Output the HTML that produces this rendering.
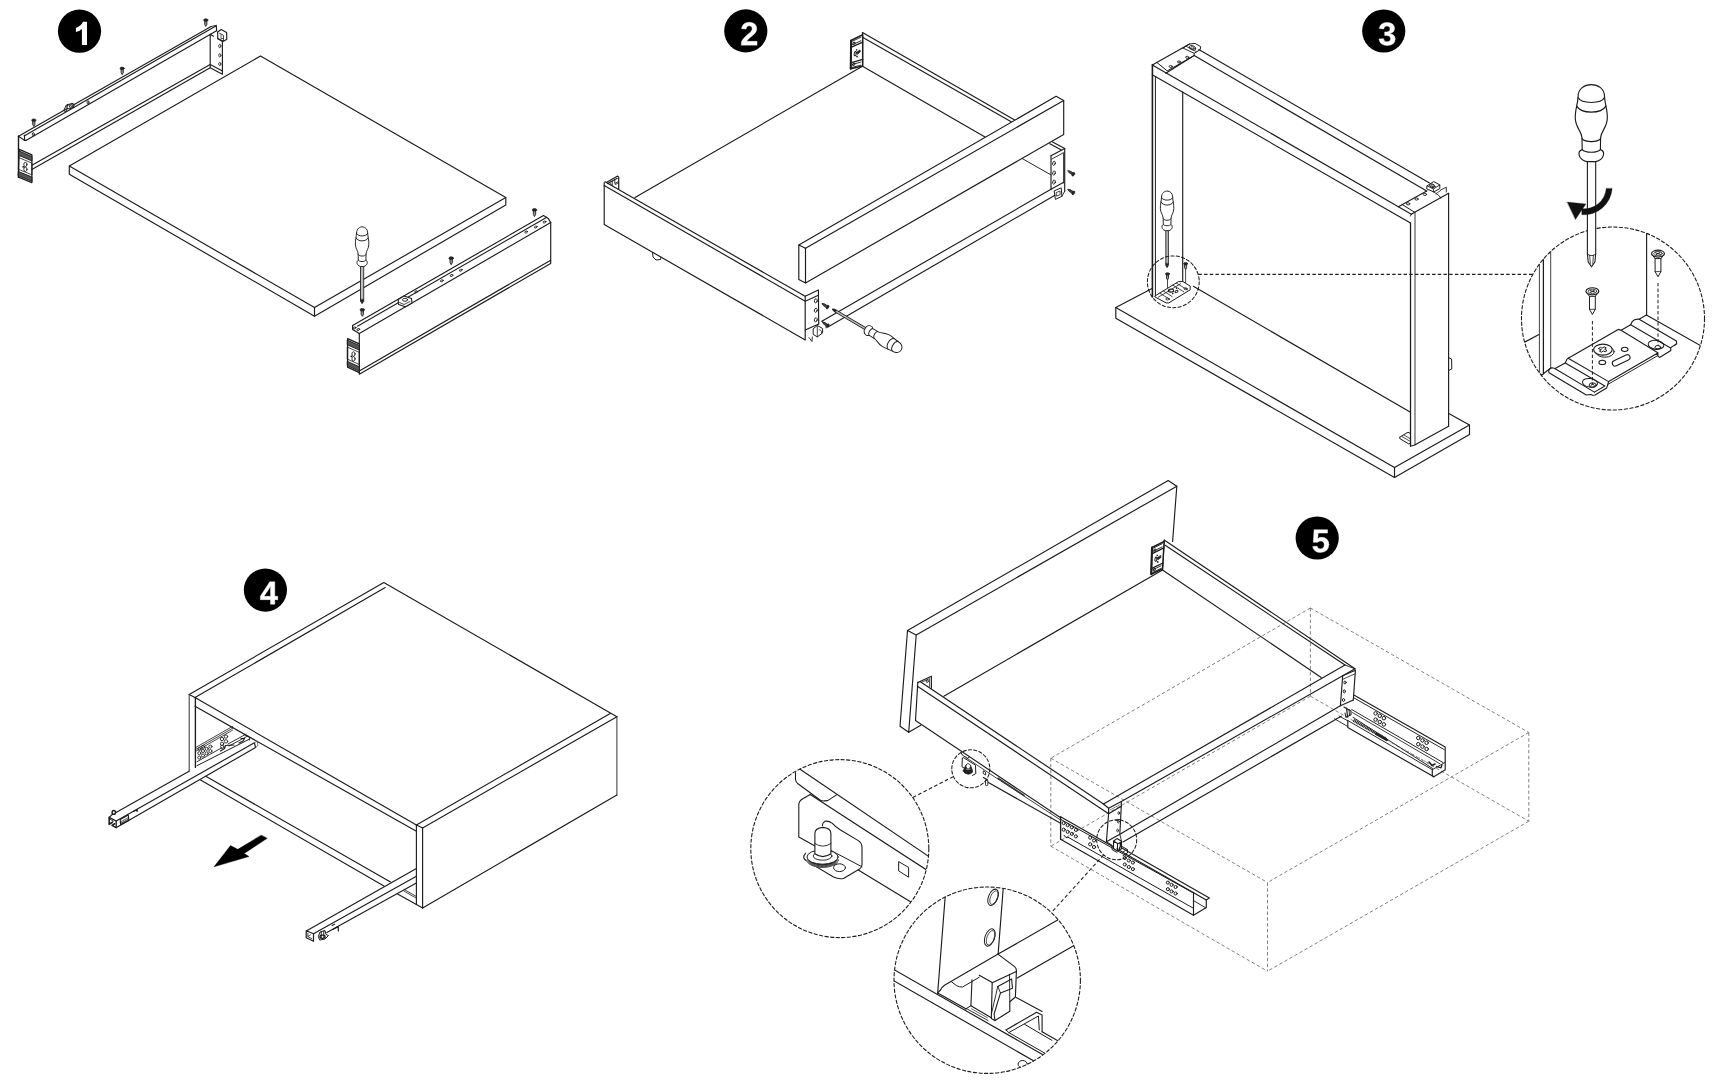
<!DOCTYPE html>
<html><head><meta charset="utf-8"><title>Assembly</title>
<style>html,body{margin:0;padding:0;background:#fff}body{width:1720px;height:1082px;overflow:hidden;font-family:"Liberation Sans",sans-serif}svg{display:block}</style>
</head><body>
<svg width="1720" height="1082" viewBox="0 0 1720 1082" stroke-linejoin="round" stroke-linecap="round">
<rect width="1720" height="1082" fill="#fff"/>
<circle cx="79.5" cy="31.2" r="21.6" fill="#000"/>
<path transform="translate(79.5,31.2)" fill="#fff" d="M7.5,-9.4 L7.5,13.7 L2.4,13.7 L2.4,-2.3 Q-0.2,-0.1 -3.6,0.8 L-3.6,-3.3 Q1.4,-5 3.5,-9.4 Z"/>
<path d="M260.5,56.0 L505.8,197.5 L505.8,205.0 L314.5,316.2 L69.3,174.3 L69.3,166.0 Z" fill="#fff" stroke="#1c1c1c" stroke-width="1.15" />
<path d="M69.3,166.0 L314.5,307.5 L505.8,197.5" fill="none" stroke="#1c1c1c" stroke-width="1.15" />
<path d="M314.5,307.5 L314.5,316.2" fill="none" stroke="#1c1c1c" stroke-width="1.15" />
<path d="M18.5,136.2 L211.1,26.5" fill="none" stroke="#1c1c1c" stroke-width="1.15" />
<path d="M24.5,135.8 L216.3,25.7 L216.6,30.8" fill="none" stroke="#1c1c1c" stroke-width="1.15" />
<path d="M25.9,140.4 L216.6,30.8" fill="none" stroke="#1c1c1c" stroke-width="1.15" />
<path d="M18.5,136.2 L24.5,140.4 L25.9,140.4" fill="none" stroke="#1c1c1c" stroke-width="1.15" />
<path d="M24.5,135.3 L24.5,140.4" fill="none" stroke="#1c1c1c" stroke-width="1.15" />
<path d="M211.1,26.5 L216.3,25.3" fill="none" stroke="#1c1c1c" stroke-width="0.9" />
<path d="M18.5,136.2 L18.5,177.4" fill="none" stroke="#1c1c1c" stroke-width="1.4" />
<path d="M31.9,165.3 L210.2,64.5" fill="none" stroke="#1c1c1c" stroke-width="1.15" />
<path d="M31.9,169.5 L210.2,67.8" fill="none" stroke="#1c1c1c" stroke-width="1.15" />
<path d="M210.2,34.3 L210.2,67.8 L222.4,74.2 L222.4,41.4 L217.5,38.6" fill="none" stroke="#1c1c1c" stroke-width="1.15" />
<path d="M210.2,34.3 L213.5,36.2" fill="none" stroke="#1c1c1c" stroke-width="1.15" />
<path d="M210.2,64.5 L222.4,71.0" fill="none" stroke="#1c1c1c" stroke-width="1.15" />
<ellipse cx="219.8" cy="46.0" rx="1.1" ry="1.7" fill="none" stroke="#1c1c1c" stroke-width="0.8"/>
<ellipse cx="219.8" cy="55.3" rx="1.1" ry="1.7" fill="none" stroke="#1c1c1c" stroke-width="0.8"/>
<ellipse cx="219.8" cy="64.0" rx="1.1" ry="1.7" fill="none" stroke="#1c1c1c" stroke-width="0.8"/>
<path d="M217.6,32.0 L221.2,29.6 L226.6,32.4 L226.8,39.3 L223.6,41.3 L217.8,38.4 Z" fill="#fff" stroke="#1c1c1c" stroke-width="1.15" />
<path d="M219.5,33.2 L223.5,35.3 L223.5,40.8" fill="none" stroke="#1c1c1c" stroke-width="0.8" />
<path d="M221.0,34.5 L221.0,38.5 L223.3,38.5" fill="none" stroke="#1c1c1c" stroke-width="0.7" />
<path d="M19.2,149.3 L31.9,154.8 L31.9,182.6 L18.5,177.2 Z" fill="#fff" stroke="#1c1c1c" stroke-width="1.3" />
<path d="M19.2,151.0 L31.9,156.5 L31.9,160.9 L19.0,155.4 Z" fill="#555" stroke="#1c1c1c" stroke-width="0.9" />
<path d="M18.6,171.6 L31.9,177.0 L31.9,181.2 L18.5,175.8 Z" fill="#555" stroke="#1c1c1c" stroke-width="0.9" />
<path d="M19.0,157.7 L31.9,163.1 L31.9,174.8 L18.7,169.4 Z" fill="none" stroke="#1c1c1c" stroke-width="0.8" />
<ellipse cx="25.4" cy="164.5" rx="1.6" ry="2.2" fill="none" stroke="#1c1c1c" stroke-width="0.9"/>
<ellipse cx="25.4" cy="169.3" rx="1.6" ry="2.2" fill="none" stroke="#1c1c1c" stroke-width="0.9"/>
<circle cx="23.2" cy="166.8" r="0.9" fill="#111"/>
<path d="M63.8,110.6 L66.2,105.2 L68.0,104.2" fill="none" stroke="#1c1c1c" stroke-width="1.0" />
<path d="M63.8,110.6 L65.6,111.8 L67.6,108.2" fill="none" stroke="#1c1c1c" stroke-width="1.0" />
<ellipse cx="70.4" cy="106.2" rx="3.7" ry="2.1" fill="#fff" stroke="#1c1c1c" stroke-width="1.1" transform="rotate(-22 70.4 106.2)"/>
<ellipse cx="70.9" cy="106.0" rx="1.7" ry="1.0" fill="none" stroke="#1c1c1c" stroke-width="0.9" transform="rotate(-22 70.9 106.0)"/>
<ellipse cx="88.0" cy="102.2" rx="1.0" ry="1.6" fill="none" stroke="#1c1c1c" stroke-width="0.9"/>
<ellipse cx="33.3" cy="134.2" rx="1.0" ry="1.6" fill="none" stroke="#1c1c1c" stroke-width="0.9"/>
<path d="M204.70000000000002,20.8 L204.70000000000002,24.4 L205.8,26.4 L206.9,24.4 L206.9,20.8" fill="#999" stroke="#222" stroke-width="0.9"/>
<ellipse cx="205.8" cy="20.099999999999998" rx="2.1" ry="1.3" fill="#222" stroke="#222" stroke-width="0.7"/>
<path d="M121.10000000000001,69.1 L121.10000000000001,72.7 L122.2,74.7 L123.3,72.7 L123.3,69.1" fill="#999" stroke="#222" stroke-width="0.9"/>
<ellipse cx="122.2" cy="68.4" rx="2.1" ry="1.3" fill="#222" stroke="#222" stroke-width="0.7"/>
<path d="M32.699999999999996,120.89999999999999 L32.699999999999996,124.5 L33.8,126.5 L34.9,124.5 L34.9,120.89999999999999" fill="#999" stroke="#222" stroke-width="0.9"/>
<ellipse cx="33.8" cy="120.2" rx="2.1" ry="1.3" fill="#222" stroke="#222" stroke-width="0.7"/>
<path d="M352.6,325.5 L543.5,215.5 L548.2,218.4 L550.7,222.6" fill="none" stroke="#1c1c1c" stroke-width="1.15" />
<path d="M357.5,326.2 L546.8,217.2" fill="none" stroke="#1c1c1c" stroke-width="1.05" />
<path d="M359.3,333.6 L550.7,222.6" fill="none" stroke="#1c1c1c" stroke-width="1.15" />
<path d="M352.6,325.5 L352.6,329.6 L359.3,333.6" fill="none" stroke="#1c1c1c" stroke-width="1.15" />
<path d="M359.3,333.6 L359.3,374.2 L550.7,263.4 L550.7,222.6" fill="none" stroke="#1c1c1c" stroke-width="1.15" />
<path d="M359.3,371.0 L550.7,260.2" fill="none" stroke="#1c1c1c" stroke-width="1.15" />
<path d="M347.6,338.6 L359.3,343.8 L359.3,372.6 L347.6,367.2 Z" fill="#fff" stroke="#1c1c1c" stroke-width="1.3" />
<path d="M347.6,340.3 L359.3,345.5 L359.3,350.1 L347.6,344.9 Z" fill="#555" stroke="#1c1c1c" stroke-width="0.9" />
<path d="M347.6,361.5 L359.3,366.8 L359.3,371.2 L347.6,365.8 Z" fill="#555" stroke="#1c1c1c" stroke-width="0.9" />
<path d="M347.6,347.2 L359.3,352.4 L359.3,364.5 L347.6,359.2 Z" fill="none" stroke="#1c1c1c" stroke-width="0.8" />
<ellipse cx="353.5" cy="354.0" rx="1.6" ry="2.2" fill="none" stroke="#1c1c1c" stroke-width="0.9"/>
<ellipse cx="353.5" cy="358.8" rx="1.6" ry="2.2" fill="none" stroke="#1c1c1c" stroke-width="0.9"/>
<circle cx="351.3" cy="356.3" r="0.9" fill="#111"/>
<ellipse cx="526.2" cy="232.0" rx="1.5" ry="0.9" fill="none" stroke="#1c1c1c" stroke-width="0.85" transform="rotate(-20 526.2 232.0)"/>
<ellipse cx="535.8" cy="227.0" rx="1.5" ry="0.9" fill="none" stroke="#1c1c1c" stroke-width="0.85" transform="rotate(-20 535.8 227.0)"/>
<ellipse cx="544.5" cy="222.0" rx="1.5" ry="0.9" fill="none" stroke="#1c1c1c" stroke-width="0.85" transform="rotate(-20 544.5 222.0)"/>
<ellipse cx="441.8" cy="280.8" rx="1.5" ry="0.9" fill="none" stroke="#1c1c1c" stroke-width="0.85" transform="rotate(-20 441.8 280.8)"/>
<ellipse cx="451.5" cy="275.5" rx="1.5" ry="0.9" fill="none" stroke="#1c1c1c" stroke-width="0.85" transform="rotate(-20 451.5 275.5)"/>
<ellipse cx="460.8" cy="270.2" rx="1.5" ry="0.9" fill="none" stroke="#1c1c1c" stroke-width="0.85" transform="rotate(-20 460.8 270.2)"/>
<ellipse cx="416.2" cy="291.8" rx="1.5" ry="0.9" fill="none" stroke="#1c1c1c" stroke-width="0.85" transform="rotate(-20 416.2 291.8)"/>
<ellipse cx="354.6" cy="327.9" rx="1.5" ry="0.9" fill="none" stroke="#1c1c1c" stroke-width="0.85" transform="rotate(-20 354.6 327.9)"/>
<ellipse cx="358.2" cy="329.6" rx="1.5" ry="0.9" fill="none" stroke="#1c1c1c" stroke-width="0.85" transform="rotate(-20 358.2 329.6)"/>
<path d="M398.2,299.5 L404.0,296.0 L411.5,298.5 L412.0,303.0 L405.5,306.8 L398.5,304.5 Z" fill="#fff" stroke="#1c1c1c" stroke-width="1.1" />
<ellipse cx="405.0" cy="299.8" rx="2.6" ry="1.5" fill="none" stroke="#1c1c1c" stroke-width="0.9"/>
<path d="M399.5,302.5 L404.0,304.5 L410.0,301.5" fill="none" stroke="#1c1c1c" stroke-width="0.8" />
<path d="M533.345,210.68 L533.345,214.46 L534.5,216.56 L535.655,214.46 L535.655,210.68" fill="#999" stroke="#222" stroke-width="0.9"/>
<ellipse cx="534.5" cy="209.945" rx="2.205" ry="1.3650000000000002" fill="#222" stroke="#222" stroke-width="0.7"/>
<path d="M450.045,258.88 L450.045,262.65999999999997 L451.2,264.76 L452.35499999999996,262.65999999999997 L452.35499999999996,258.88" fill="#999" stroke="#222" stroke-width="0.9"/>
<ellipse cx="451.2" cy="258.145" rx="2.205" ry="1.3650000000000002" fill="#222" stroke="#222" stroke-width="0.7"/>
<path d="M361.14500000000004,310.48 L361.14500000000004,314.26 L362.3,316.36 L363.455,314.26 L363.455,310.48" fill="#999" stroke="#222" stroke-width="0.9"/>
<ellipse cx="362.3" cy="309.745" rx="2.205" ry="1.3650000000000002" fill="#222" stroke="#222" stroke-width="0.7"/>
<path d="M360.5,265.94 L360.5,301.5 L362.1,303.3 L363.70000000000005,301.5 L363.70000000000005,265.94 Z" fill="#bdbdbd" stroke="#1c1c1c" stroke-width="0.855" />
<path d="M360.5,299.7 L362.1,303.6 L363.70000000000005,299.7 Z" fill="#222" stroke="#1c1c1c" stroke-width="0.6" />
<path d="M356.55600000000004,232.98000000000002 C356.43,224.74 367.77000000000004,224.74 367.644,232.98000000000002 C367.812,237.10000000000002 369.03000000000003,240.19 368.82000000000005,244.31 C368.65200000000004,248.94500000000002 366.3,250.49 366.00600000000003,254.09500000000003 L365.922,260.27500000000003 C368.19,261.305 367.56,265.425 363.94800000000004,266.45500000000004 L360.252,266.45500000000004 C356.64000000000004,265.425 356.01000000000005,261.305 358.278,260.27500000000003 L358.194,254.09500000000003 C357.90000000000003,250.49 355.548,248.94500000000002 355.38,244.31 C355.17,240.19 356.38800000000003,237.10000000000002 356.55600000000004,232.98000000000002 Z" fill="#fff" stroke="#1c1c1c" stroke-width="0.95" />
<path d="M356.55600000000004,233.495 C357.90000000000003,236.8425 366.3,236.8425 367.644,233.495" fill="none" stroke="#1c1c1c" stroke-width="0.95" />
<path d="M355.968,237.8725 C357.90000000000003,241.9925 366.3,241.9925 368.232,237.8725" fill="none" stroke="#1c1c1c" stroke-width="0.95" />
<path d="M358.194,254.61 C359.58000000000004,256.67 364.62,256.67 366.00600000000003,254.61" fill="none" stroke="#1c1c1c" stroke-width="0.95" />
<path d="M358.278,260.27500000000003 C359.58000000000004,262.0775 364.62,262.0775 365.922,260.27500000000003" fill="none" stroke="#1c1c1c" stroke-width="0.95" />
<circle cx="745.8" cy="30.9" r="21.6" fill="#000"/>
<path d="M71 0V195Q126 316 227.5 431.0Q329 546 483 671Q631 791 690.5 869.0Q750 947 750 1022Q750 1206 565 1206Q475 1206 427.5 1157.5Q380 1109 366 1012L83 1028Q107 1224 229.5 1327.0Q352 1430 563 1430Q791 1430 913.0 1326.0Q1035 1222 1035 1034Q1035 935 996.0 855.0Q957 775 896.0 707.5Q835 640 760.5 581.0Q686 522 616.0 466.0Q546 410 488.5 353.0Q431 296 403 231H1057V0Z" fill="#fff" stroke="#fff" stroke-width="28.4" transform="translate(740.26,45.00) scale(0.01587,-0.01587)"/>
<path d="M635.0,197.5 L862.5,66.2 L985.0,136.9" fill="none" stroke="#1c1c1c" stroke-width="1.15" />
<path d="M862.5,32.5 L1014.7,120.0" fill="none" stroke="#1c1c1c" stroke-width="1.15" />
<path d="M862.5,37.2 L1011.2,121.8" fill="none" stroke="#1c1c1c" stroke-width="1.15" />
<path d="M862.5,32.5 L862.5,66.2" fill="none" stroke="#1c1c1c" stroke-width="1.15" />
<path d="M851.1,40.5 L862.7,34.7 L862.7,66.0 L850.7,68.8 Z" fill="#fff" stroke="#1c1c1c" stroke-width="1.5" />
<path d="M851.1,40.5 L850.7,68.8" fill="none" stroke="#1c1c1c" stroke-width="2.0" />
<path d="M851.0,47.3 L862.7,42.2" fill="none" stroke="#1c1c1c" stroke-width="1.3" />
<path d="M850.8,62.9 L862.7,59.4" fill="none" stroke="#1c1c1c" stroke-width="1.3" />
<path d="M852.5,41.2 L861.0,37.1" fill="none" stroke="#1c1c1c" stroke-width="0.9" />
<path d="M852.4,44.7 L860.9,40.8" fill="none" stroke="#1c1c1c" stroke-width="0.9" />
<path d="M852.2,64.5 L860.9,62.1" fill="none" stroke="#1c1c1c" stroke-width="0.9" />
<path d="M852.2,67.3 L860.9,65.2" fill="none" stroke="#1c1c1c" stroke-width="0.9" />
<ellipse cx="854.0" cy="43.3" rx="1.3" ry="0.9" fill="none" stroke="#1c1c1c" stroke-width="0.9" transform="rotate(-28 854.0 43.3)"/>
<ellipse cx="853.7" cy="64.4" rx="1.3" ry="0.9" fill="none" stroke="#1c1c1c" stroke-width="0.9" transform="rotate(-28 853.7 64.4)"/>
<ellipse cx="855.2" cy="53.7" rx="1.0" ry="2.2" fill="none" stroke="#1c1c1c" stroke-width="1.0" transform="rotate(10 855.2 53.7)"/>
<path d="M856.0,52.7 L860.0,49.9 L860.2,52.1 L857.4,54.1 Z" fill="#222" stroke="#222" stroke-width="0.8"/>
<circle cx="856.6" cy="49.9" r="0.8" fill="#222"/><circle cx="857.0" cy="56.5" r="0.9" fill="#222"/>
<path d="M798.8,245.0 L1056.1,96.3 L1063.7,100.5 L1063.7,134.5 L805.5,283.0 L798.8,279.5 Z" fill="#fff" stroke="#1c1c1c" stroke-width="1.15" />
<path d="M798.8,245.0 L805.5,248.2 L1063.7,100.5" fill="none" stroke="#1c1c1c" stroke-width="1.15" />
<path d="M805.5,248.2 L805.5,283.0" fill="none" stroke="#1c1c1c" stroke-width="1.15" />
<path d="M1049.8,143.7 L1060.9,149.8" fill="none" stroke="#1c1c1c" stroke-width="1.15" />
<path d="M1052.6,141.9 L1064.7,148.4" fill="none" stroke="#1c1c1c" stroke-width="1.15" />
<path d="M1051.0,155.8 L1064.7,148.4 L1064.7,191.2" fill="none" stroke="#1c1c1c" stroke-width="1.15" />
<path d="M1051.6,159.2 L1063.6,152.6 L1063.6,183.0" fill="none" stroke="#1c1c1c" stroke-width="0.9" />
<path d="M1051.0,155.8 L1051.0,189.3 L1063.7,182.3" fill="none" stroke="#1c1c1c" stroke-width="1.15" />
<ellipse cx="1054.0" cy="163.3" rx="1.3" ry="2.1" fill="none" stroke="#1c1c1c" stroke-width="0.9" transform="rotate(15 1054.0 163.3)"/>
<ellipse cx="1054.0" cy="173.0" rx="1.3" ry="2.1" fill="none" stroke="#1c1c1c" stroke-width="0.9" transform="rotate(15 1054.0 173.0)"/>
<ellipse cx="1054.0" cy="182.1" rx="1.3" ry="2.1" fill="none" stroke="#1c1c1c" stroke-width="0.9" transform="rotate(15 1054.0 182.1)"/>
<path d="M1022.3,158.6 L1051.0,174.9" fill="none" stroke="#1c1c1c" stroke-width="0.95" />
<path d="M1054.5,190.8 L1061.2,187.8 L1061.9,196.4 L1055.8,199.2 Z" fill="#fff" stroke="#1c1c1c" stroke-width="1.0" />
<path d="M1056.5,192.5 L1060.0,191.0 L1060.2,194.6 L1056.8,196.0 Z" fill="none" stroke="#1c1c1c" stroke-width="0.8" />
<path d="M1061.9,196.4 L1064.7,191.2" fill="none" stroke="#1c1c1c" stroke-width="0.9" />
<path d="M1051.0,189.3 L821.8,321.3" fill="none" stroke="#1c1c1c" stroke-width="1.15" />
<path d="M1054.9,195.3 L827.9,327.0" fill="none" stroke="#1c1c1c" stroke-width="1.15" />
<g transform="translate(1074,174.6) rotate(122)">
<ellipse cx="0" cy="0.8" rx="2.0" ry="1.3" fill="#222" stroke="#222" stroke-width="0.6"/>
<path d="M-1.0,1.6 L-1.0,5.2 L0,7.4 L1.0,5.2 L1.0,1.6 Z" fill="#444" stroke="#222" stroke-width="0.8"/>
</g>
<g transform="translate(1074,193.2) rotate(122)">
<ellipse cx="0" cy="0.8" rx="2.0" ry="1.3" fill="#222" stroke="#222" stroke-width="0.6"/>
<path d="M-1.0,1.6 L-1.0,5.2 L0,7.4 L1.0,5.2 L1.0,1.6 Z" fill="#444" stroke="#222" stroke-width="0.8"/>
</g>
<path d="M605.0,181.8 L805.2,296.3 L818.4,289.9 L818.7,324.0" fill="none" stroke="#1c1c1c" stroke-width="1.15" />
<path d="M604.2,185.5 L805.2,301.2 L818.4,295.2" fill="none" stroke="#1c1c1c" stroke-width="1.15" />
<path d="M604.2,182.5 L604.2,224.5 L805.2,339.9 L805.2,296.3" fill="none" stroke="#1c1c1c" stroke-width="1.15" />
<path d="M805.2,330.0 L818.7,324.0" fill="none" stroke="#1c1c1c" stroke-width="1.15" />
<ellipse cx="815.8" cy="300.8" rx="1.4" ry="2.1" fill="none" stroke="#1c1c1c" stroke-width="0.9" transform="rotate(15 815.8 300.8)"/>
<ellipse cx="815.8" cy="310.3" rx="1.4" ry="2.1" fill="none" stroke="#1c1c1c" stroke-width="0.9" transform="rotate(15 815.8 310.3)"/>
<ellipse cx="815.8" cy="319.8" rx="1.4" ry="2.1" fill="none" stroke="#1c1c1c" stroke-width="0.9" transform="rotate(15 815.8 319.8)"/>
<path d="M606.7,182.2 L617.7,176.1 L618.7,177.2 L618.7,188.7" fill="none" stroke="#1c1c1c" stroke-width="1.2" />
<path d="M607.6,183.6 L617.2,178.3" fill="none" stroke="#1c1c1c" stroke-width="1.1" />
<path d="M612.2,181.4 L612.2,185.4" fill="none" stroke="#1c1c1c" stroke-width="0.9" />
<path d="M614.8,180.0 L614.8,183.6 L617.6,182.0" fill="none" stroke="#1c1c1c" stroke-width="0.9" />
<path d="M609.8,182.8 L611.8,185.4" fill="none" stroke="#1c1c1c" stroke-width="0.8" />
<path d="M615.5,184.5 L618.5,182.8" fill="none" stroke="#1c1c1c" stroke-width="0.8" />
<path d="M652.5,252.5 L653.0,257.0 L656.0,260.0 L660.5,259.5 L661.0,257.2" fill="none" stroke="#1c1c1c" stroke-width="1.0" />
<path d="M813.5,328.5 L817.3,325.5 L822.6,328.5 L822.6,333.0 L817.3,336.9 L813.5,334.6 Z" fill="#fff" stroke="#1c1c1c" stroke-width="1.0" />
<path d="M817.3,325.5 L817.3,336.9" fill="none" stroke="#1c1c1c" stroke-width="0.8" />
<path d="M819.0,329.5 L821.5,331.0 L821.5,333.5" fill="none" stroke="#1c1c1c" stroke-width="0.7" />
<path d="M809.0,337.6 L812.0,341.5 L812.3,337.0" fill="none" stroke="#1c1c1c" stroke-width="0.9" />
<path d="M822.5,321.5 L826.0,323.5 L826.0,328.0" fill="none" stroke="#1c1c1c" stroke-width="0.8" />
<g transform="translate(828.2,307.4) rotate(122)">
<ellipse cx="0" cy="0.8" rx="2.0" ry="1.3" fill="#222" stroke="#222" stroke-width="0.6"/>
<path d="M-1.0,1.6 L-1.0,5.2 L0,7.4 L1.0,5.2 L1.0,1.6 Z" fill="#444" stroke="#222" stroke-width="0.8"/>
</g>
<g transform="translate(828.4,326) rotate(122)">
<ellipse cx="0" cy="0.76" rx="1.9" ry="1.2349999999999999" fill="#222" stroke="#222" stroke-width="0.6"/>
<path d="M-0.95,1.52 L-0.95,4.9399999999999995 L0,7.03 L0.95,4.9399999999999995 L0.95,1.52 Z" fill="#444" stroke="#222" stroke-width="0.8"/>
</g>
<g transform="translate(832.5,309.2) rotate(120.6) translate(-832.5,-309.2)">
<path d="M831.4,270.71999999999997 L831.4,307.4 L832.5,309.2 L833.6,307.4 L833.6,270.71999999999997 Z" fill="#bdbdbd" stroke="#1c1c1c" stroke-width="0.855" />
<path d="M831.4,305.59999999999997 L832.5,309.5 L833.6,305.59999999999997 Z" fill="#222" stroke="#1c1c1c" stroke-width="0.6" />
<path d="M826.956,235.83999999999997 C826.83,227.11999999999998 838.17,227.11999999999998 838.044,235.83999999999997 C838.212,240.2 839.43,243.46999999999997 839.22,247.82999999999998 C839.052,252.73499999999999 836.7,254.36999999999998 836.406,258.185 L836.322,264.72499999999997 C838.59,265.815 837.96,270.17499999999995 834.348,271.265 L830.652,271.265 C827.04,270.17499999999995 826.41,265.815 828.678,264.72499999999997 L828.594,258.185 C828.3,254.36999999999998 825.948,252.73499999999999 825.78,247.82999999999998 C825.57,243.46999999999997 826.788,240.2 826.956,235.83999999999997 Z" fill="#fff" stroke="#1c1c1c" stroke-width="0.95" />
<path d="M826.956,236.385 C828.3,239.92749999999998 836.7,239.92749999999998 838.044,236.385" fill="none" stroke="#1c1c1c" stroke-width="0.95" />
<path d="M826.368,241.01749999999998 C828.3,245.3775 836.7,245.3775 838.632,241.01749999999998" fill="none" stroke="#1c1c1c" stroke-width="0.95" />
<path d="M828.594,258.72999999999996 C829.98,260.90999999999997 835.02,260.90999999999997 836.406,258.72999999999996" fill="none" stroke="#1c1c1c" stroke-width="0.95" />
<path d="M828.678,264.72499999999997 C829.98,266.6325 835.02,266.6325 836.322,264.72499999999997" fill="none" stroke="#1c1c1c" stroke-width="0.95" />
</g>
<circle cx="1383.75" cy="31" r="21.6" fill="#000"/>
<path d="M1065 391Q1065 193 935.0 85.0Q805 -23 565 -23Q338 -23 204.0 81.5Q70 186 47 383L333 408Q360 205 564 205Q665 205 721.0 255.0Q777 305 777 408Q777 502 709.0 552.0Q641 602 507 602H409V829H501Q622 829 683.0 878.5Q744 928 744 1020Q744 1107 695.5 1156.5Q647 1206 554 1206Q467 1206 413.5 1158.0Q360 1110 352 1022L71 1042Q93 1224 222.0 1327.0Q351 1430 559 1430Q780 1430 904.5 1330.5Q1029 1231 1029 1055Q1029 923 951.5 838.0Q874 753 728 725V721Q890 702 977.5 614.5Q1065 527 1065 391Z" fill="#fff" stroke="#fff" stroke-width="28.4" transform="translate(1378.21,45.10) scale(0.01587,-0.01587)"/>
<path d="M1115.8,307.5 L1152.5,288.2" fill="none" stroke="#1c1c1c" stroke-width="1.15" />
<path d="M1115.8,307.5 L1394.5,467.5 L1469.5,425.0 L1448.8,413.5" fill="none" stroke="#1c1c1c" stroke-width="1.15" />
<path d="M1115.8,307.5 L1115.8,318.2 L1394.5,477.5 L1469.5,434.5 L1469.5,425.0" fill="none" stroke="#1c1c1c" stroke-width="1.15" />
<path d="M1394.5,467.5 L1394.5,477.5" fill="none" stroke="#1c1c1c" stroke-width="1.15" />
<path d="M1193.4,286.3 L1410.5,412.2" fill="none" stroke="#1c1c1c" stroke-width="1.15" />
<path d="M1198.8,49.5 L1429.5,183.0" fill="none" stroke="#1c1c1c" stroke-width="1.15" />
<path d="M1194.2,55.6 L1426.7,190.9" fill="none" stroke="#1c1c1c" stroke-width="1.15" />
<path d="M1152.3,64.9 L1411.4,214.2" fill="none" stroke="#1c1c1c" stroke-width="1.15" />
<path d="M1152.3,74.7 L1410.5,223.0" fill="none" stroke="#1c1c1c" stroke-width="1.15" />
<path d="M1152.4,64.9 L1152.4,297.0" fill="none" stroke="#1c1c1c" stroke-width="1.6" />
<path d="M1155.4,77.0 L1155.4,295.8" fill="none" stroke="#1c1c1c" stroke-width="1.0" />
<path d="M1182.7,91.9 L1182.7,281.0" fill="none" stroke="#1c1c1c" stroke-width="1.15" />
<path d="M1152.3,64.9 L1189.5,44.0" fill="none" stroke="#1c1c1c" stroke-width="1.15" />
<path d="M1157.0,62.6 L1167.2,70.9 L1193.3,56.0" fill="none" stroke="#1c1c1c" stroke-width="1.0" />
<path d="M1165.8,73.3 L1194.2,55.6" fill="none" stroke="#1c1c1c" stroke-width="1.15" />
<ellipse cx="1170.7" cy="66.5" rx="1.6" ry="1.0" fill="none" stroke="#1c1c1c" stroke-width="0.9"/>
<ellipse cx="1179.0" cy="61.9" rx="1.6" ry="1.0" fill="none" stroke="#1c1c1c" stroke-width="0.9"/>
<ellipse cx="1187.2" cy="57.3" rx="1.6" ry="1.0" fill="none" stroke="#1c1c1c" stroke-width="0.9"/>
<path d="M1183.0,48.1 L1189.5,44.0 L1195.1,43.4 L1200.7,46.7 L1200.2,49.6 L1194.2,53.3 L1194.2,55.6" fill="none" stroke="#1c1c1c" stroke-width="1.0" />
<path d="M1183.0,48.1 L1194.2,53.3" fill="none" stroke="#1c1c1c" stroke-width="0.9" />
<path d="M1186.0,46.2 L1196.5,51.7" fill="none" stroke="#1c1c1c" stroke-width="0.8" />
<ellipse cx="1192.5" cy="47.8" rx="3.4" ry="2.0" fill="none" stroke="#1c1c1c" stroke-width="0.9" transform="rotate(20 1192.5 47.8)"/>
<ellipse cx="1192.5" cy="47.8" rx="1.8" ry="1.0" fill="none" stroke="#1c1c1c" stroke-width="0.7" transform="rotate(20 1192.5 47.8)"/>
<path d="M1410.5,223.0 L1410.5,446.2" fill="none" stroke="#1c1c1c" stroke-width="1.3" />
<path d="M1415.0,212.3 L1415.0,445.0" fill="none" stroke="#3a3a3a" stroke-width="1.0" />
<path d="M1411.4,214.2 L1410.5,216.0" fill="none" stroke="#1c1c1c" stroke-width="0.9" />
<path d="M1448.6,193.3 L1448.6,426.2" fill="none" stroke="#1c1c1c" stroke-width="1.15" />
<path d="M1411.4,214.2 L1414.7,212.3 L1448.6,193.3" fill="none" stroke="#1c1c1c" stroke-width="1.15" />
<path d="M1410.5,446.2 L1414.7,445.0 L1448.6,426.2" fill="none" stroke="#1c1c1c" stroke-width="1.15" />
<path d="M1398.4,206.7 L1426.7,190.9" fill="none" stroke="#1c1c1c" stroke-width="1.15" />
<path d="M1402.1,204.5 L1414.7,212.3" fill="none" stroke="#1c1c1c" stroke-width="1.0" />
<ellipse cx="1408.1" cy="203.8" rx="1.7" ry="1.1" fill="none" stroke="#1c1c1c" stroke-width="0.9"/>
<ellipse cx="1416.5" cy="199.0" rx="1.7" ry="1.1" fill="none" stroke="#1c1c1c" stroke-width="0.9"/>
<ellipse cx="1424.9" cy="194.4" rx="1.7" ry="1.1" fill="none" stroke="#1c1c1c" stroke-width="0.9"/>
<path d="M1427.2,185.8 L1433.7,181.6 L1439.8,184.9 L1439.8,188.6 L1433.7,191.9 L1427.2,189.1 Z" fill="#fff" stroke="#1c1c1c" stroke-width="1.0" />
<path d="M1427.2,185.8 L1433.3,189.0 L1439.8,184.9" fill="none" stroke="#1c1c1c" stroke-width="0.9" />
<path d="M1433.3,189.0 L1433.7,191.9" fill="none" stroke="#1c1c1c" stroke-width="0.8" />
<ellipse cx="1432.3" cy="185.8" rx="2.8" ry="1.7" fill="none" stroke="#1c1c1c" stroke-width="0.9" transform="rotate(20 1432.3 185.8)"/>
<ellipse cx="1432.3" cy="185.8" rx="1.3" ry="0.8" fill="none" stroke="#1c1c1c" stroke-width="0.7" transform="rotate(20 1432.3 185.8)"/>
<path d="M1440.7,190.0 L1446.3,187.2 L1446.3,192.0" fill="none" stroke="#1c1c1c" stroke-width="0.9" />
<path d="M1433.7,191.9 L1439.5,196.0 L1440.7,198.2" fill="none" stroke="#1c1c1c" stroke-width="0.9" />
<path d="M1436.0,193.7 L1440.7,190.5" fill="none" stroke="#1c1c1c" stroke-width="0.8" />
<path d="M1399.8,437.2 L1408.0,432.2 L1410.5,433.5" fill="none" stroke="#1c1c1c" stroke-width="1.0" />
<path d="M1399.8,437.2 L1399.8,438.6 L1408.8,444.0 L1410.5,443.0" fill="none" stroke="#1c1c1c" stroke-width="1.0" />
<path d="M1402.0,436.5 L1409.5,441.0" fill="none" stroke="#1c1c1c" stroke-width="0.8" />
<path d="M1404.0,435.0 L1410.3,438.8" fill="none" stroke="#1c1c1c" stroke-width="0.8" />
<path d="M1448.6,357.8 L1451.6,359.0 L1451.8,369.0 L1448.6,370.5" fill="none" stroke="#1c1c1c" stroke-width="1.0" />
<path d="M1165.8,230.14 L1165.8,265.5 L1167.1,267.3 L1168.3999999999999,265.5 L1168.3999999999999,230.14 Z" fill="#bdbdbd" stroke="#1c1c1c" stroke-width="0.855" />
<path d="M1165.8,263.7 L1167.1,267.6 L1168.3999999999999,263.7 Z" fill="#222" stroke="#1c1c1c" stroke-width="0.6" />
<path d="M1161.5559999999998,197.18 C1161.4299999999998,188.94 1172.77,188.94 1172.644,197.18 C1172.812,201.3 1174.03,204.39 1173.82,208.51 C1173.6519999999998,213.145 1171.3,214.69 1171.0059999999999,218.29500000000002 L1170.9219999999998,224.475 C1173.1899999999998,225.505 1172.56,229.625 1168.9479999999999,230.655 L1165.252,230.655 C1161.6399999999999,229.625 1161.01,225.505 1163.278,224.475 L1163.194,218.29500000000002 C1162.8999999999999,214.69 1160.548,213.145 1160.3799999999999,208.51 C1160.1699999999998,204.39 1161.388,201.3 1161.5559999999998,197.18 Z" fill="#fff" stroke="#1c1c1c" stroke-width="0.95" />
<path d="M1161.5559999999998,197.695 C1162.8999999999999,201.0425 1171.3,201.0425 1172.644,197.695" fill="none" stroke="#1c1c1c" stroke-width="0.95" />
<path d="M1160.9679999999998,202.0725 C1162.8999999999999,206.1925 1171.3,206.1925 1173.232,202.0725" fill="none" stroke="#1c1c1c" stroke-width="0.95" />
<path d="M1163.194,218.81 C1164.58,220.87 1169.62,220.87 1171.0059999999999,218.81" fill="none" stroke="#1c1c1c" stroke-width="0.95" />
<path d="M1163.278,224.475 C1164.58,226.2775 1169.62,226.2775 1170.9219999999998,224.475" fill="none" stroke="#1c1c1c" stroke-width="0.95" />
<path d="M1166.455,274.62 L1166.455,278.04 L1167.5,279.94 L1168.545,278.04 L1168.545,274.62" fill="#999" stroke="#222" stroke-width="0.9"/>
<ellipse cx="1167.5" cy="273.95500000000004" rx="1.9949999999999999" ry="1.2349999999999999" fill="#222" stroke="#222" stroke-width="0.7"/>
<path d="M1184.5549999999998,264.32 L1184.5549999999998,267.74 L1185.6,269.64 L1186.645,267.74 L1186.645,264.32" fill="#999" stroke="#222" stroke-width="0.9"/>
<ellipse cx="1185.6" cy="263.65500000000003" rx="1.9949999999999999" ry="1.2349999999999999" fill="#222" stroke="#222" stroke-width="0.7"/>
<path d="M1167.5,280.0 L1167.5,298.5" fill="none" stroke="#1c1c1c" stroke-width="0.8" />
<path d="M1185.6,269.5 L1185.6,288.5" fill="none" stroke="#1c1c1c" stroke-width="0.8" />
<path d="M1155.2,295.8 L1178.5,281.6 L1183.0,281.6 L1190.2,286.1 L1190.2,289.8 L1168.8,302.9 L1166.2,302.9 L1155.2,297.1 Z" fill="#fff" stroke="#1c1c1c" stroke-width="1.0" />
<path d="M1158.2,297.2 L1180.5,283.8" fill="none" stroke="#1c1c1c" stroke-width="0.8" />
<path d="M1160.0,293.2 L1169.5,299.2" fill="none" stroke="#1c1c1c" stroke-width="0.8" />
<path d="M1176.5,283.2 L1187.5,289.8" fill="none" stroke="#1c1c1c" stroke-width="0.8" />
<path d="M1163.5,291.0 L1172.0,296.5" fill="none" stroke="#1c1c1c" stroke-width="0.8" />
<path d="M1173.0,285.2 L1183.8,291.8" fill="none" stroke="#1c1c1c" stroke-width="0.8" />
<ellipse cx="1171.0" cy="290.6" rx="2.6" ry="1.6" fill="none" stroke="#1c1c1c" stroke-width="1.2"/>
<ellipse cx="1176.5" cy="291.5" rx="1.6" ry="1.0" fill="none" stroke="#1c1c1c" stroke-width="1.0" transform="rotate(-28 1176.5 291.5)"/>
<circle cx="1172.8" cy="293.6" r="0.8" fill="#111"/><circle cx="1176.5" cy="288.3" r="0.7" fill="#111"/>
<ellipse cx="1167.5" cy="299.0" rx="1.7" ry="1.0" fill="none" stroke="#1c1c1c" stroke-width="0.8"/>
<ellipse cx="1185.6" cy="288.8" rx="1.7" ry="1.0" fill="none" stroke="#1c1c1c" stroke-width="0.8"/>
<circle cx="1173.3" cy="281.8" r="25.9" fill="none" stroke="#1c1c1c" stroke-width="1.05" stroke-dasharray="3.2,2.2"/>
<path d="M1198.4,274.3 L1533.5,274.3" fill="none" stroke="#1c1c1c" stroke-width="1.15" stroke-dasharray="3.4,2.3" stroke-linecap="butt"/>
<clipPath id="c3"><circle cx="1613" cy="318.5" r="91.5"/></clipPath>
<g clip-path="url(#c3)">
<path d="M1539.4,220.0 L1539.4,372.0" fill="none" stroke="#444" stroke-width="1.0" />
<path d="M1543.4,220.0 L1543.4,373.6" fill="none" stroke="#1c1c1c" stroke-width="1.25" />
<path d="M1550.7,220.0 L1550.7,368.0" fill="none" stroke="#444" stroke-width="1.0" />
<path d="M1538.6,371.8 L1539.4,373.6 L1542.0,375.0 L1543.4,373.8 L1550.7,368.0" fill="none" stroke="#1c1c1c" stroke-width="1.1" />
<path d="M1515.0,347.4 L1539.0,334.4" fill="none" stroke="#1c1c1c" stroke-width="1.15" />
<path d="M1646.6,232.5 L1646.6,315.0" fill="none" stroke="#1c1c1c" stroke-width="1.15" />
<path d="M1646.4,315.0 L1715.0,353.7" fill="none" stroke="#1c1c1c" stroke-width="1.15" />
<path d="M1549.3,369.3 Q1548.2,370.8 1549,372.8 L1586.3,395 L1590.9,394.5 L1592.7,395.3 L1595,395 L1606.6,388 Q1607.4,386 1607.8,384.3 L1608.7,381.6 L1657.8,352.9 L1657.8,355.9 L1659.5,357.4 L1670.9,350.4 L1670.6,348 Q1671.6,346.6 1673.2,346 Q1675.4,344.8 1676.7,343.7 L1676.4,341.1 L1639.1,319.2 Q1634.5,318.6 1632.2,321.6 L1630.7,324.8 L1621.1,330.3 L1618.2,329.4 L1568.2,358.3 Q1566.6,359.2 1566.3,360.6 L1565.3,363 L1555.1,368.5 L1551.9,367.7 Z" fill="#fff" stroke="#1c1c1c" stroke-width="1.15" />
<path d="M1646.4,315.0 L1639.1,319.2" fill="none" stroke="#1c1c1c" stroke-width="1.1" />
<path d="M1565.3,363.0 L1604.9,386.0 L1594.4,392.1" fill="none" stroke="#1c1c1c" stroke-width="1.05" />
<path d="M1568.2,358.3 L1608.7,381.6" fill="none" stroke="#1c1c1c" stroke-width="1.05" />
<path d="M1554.8,368.5 L1594.4,392.1" fill="none" stroke="#1c1c1c" stroke-width="1.05" />
<path d="M1630.7,324.8 L1670.6,348.0" fill="none" stroke="#1c1c1c" stroke-width="1.05" />
<path d="M1621.1,330.3 L1657.8,352.7" fill="none" stroke="#1c1c1c" stroke-width="1.05" />
<path d="M1608.1,384.3 L1657.8,355.6" fill="none" stroke="#1c1c1c" stroke-width="0.95" />
<ellipse cx="1604.9" cy="351.7" rx="9.3" ry="5.5" fill="#fff" stroke="#1c1c1c" stroke-width="1.0"/>
<ellipse cx="1602.9" cy="349.6" rx="9.3" ry="5.5" fill="#fff" stroke="#1c1c1c" stroke-width="1.15"/>
<path d="M1598.6,348.4 L1600.4,347.3 L1602,348.2 L1604.3,346.9 L1606.3,348 L1604.6,349.2 L1607,350.6 L1605.2,351.8 L1603.5,350.9 L1601.3,352.2 L1599.4,351.1 L1601,349.9 Z" fill="none" stroke="#1c1c1c" stroke-width="1.0" />
<ellipse cx="1624.7" cy="349.3" rx="3.3" ry="2.1" fill="none" stroke="#1c1c1c" stroke-width="1.05"/>
<ellipse cx="1602.3" cy="362.4" rx="3.4" ry="2.1" fill="none" stroke="#1c1c1c" stroke-width="1.05"/>
<rect x="1611.7" y="357.6" width="19" height="5.6" rx="2.8" fill="none" stroke="#1c1c1c" stroke-width="1.05" transform="rotate(-25.5 1621.2 360.4)"/>
<ellipse cx="1590.0" cy="382.8" rx="7.6" ry="4.3" fill="none" stroke="#1c1c1c" stroke-width="1.0" transform="rotate(8 1590.0 382.8)"/>
<ellipse cx="1592.7" cy="385.1" rx="3.6" ry="2.3" fill="none" stroke="#1c1c1c" stroke-width="1.0"/>
<path d="M1590.8,386.0 L1592.6,383.2 L1594.6,386.0" fill="none" stroke="#1c1c1c" stroke-width="0.8" />
<ellipse cx="1656.0" cy="344.8" rx="7.9" ry="4.4" fill="none" stroke="#1c1c1c" stroke-width="1.0" transform="rotate(8 1656.0 344.8)"/>
<ellipse cx="1657.8" cy="347.2" rx="2.8" ry="1.7" fill="none" stroke="#1c1c1c" stroke-width="1.0"/>
<path d="M1651.5,348 Q1656,351.5 1662.5,347.5" fill="none" stroke="#1c1c1c" stroke-width="0.8" />
</g>
<path d="M1592.4,321.0 L1592.4,385.0" fill="none" stroke="#1c1c1c" stroke-width="1.0" stroke-dasharray="3.4,2.2" stroke-linecap="butt"/>
<path d="M1658.0,283.0 L1658.0,346.0" fill="none" stroke="#1c1c1c" stroke-width="1.0" stroke-dasharray="3.4,2.2" stroke-linecap="butt"/>
<path d="M1589.5,295.8 L1589.5,309.3 L1592.4,314.5 L1595.3000000000002,309.3 L1595.3000000000002,295.8 Z" fill="#fff" stroke="#1c1c1c" stroke-width="1.0" />
<path d="M1586.2,291.90000000000003 L1589.5,296.3 L1595.3000000000002,296.3 L1598.6000000000001,291.90000000000003 Z" fill="#fff" stroke="#1c1c1c" stroke-width="1.0" />
<ellipse cx="1592.4" cy="291.3" rx="6.4" ry="3.5" fill="#fff" stroke="#1c1c1c" stroke-width="1.1"/>
<ellipse cx="1592.4" cy="291.3" rx="4.2" ry="2.1" fill="none" stroke="#1c1c1c" stroke-width="0.8"/>
<path d="M1589.9,290.5 L1594.9,292.1" fill="none" stroke="#1c1c1c" stroke-width="1.0" />
<path d="M1590.4,292.4 L1594.4,290.2" fill="none" stroke="#1c1c1c" stroke-width="1.0" />
<path d="M1589.5,309.3 L1595.3,309.3" fill="none" stroke="#1c1c1c" stroke-width="0.8" />
<path d="M1655.1,258.1 L1655.1,271.6 L1658,276.8 L1660.9,271.6 L1660.9,258.1 Z" fill="#fff" stroke="#1c1c1c" stroke-width="1.0" />
<path d="M1651.8,254.2 L1655.1,258.6 L1660.9,258.6 L1664.2,254.2 Z" fill="#fff" stroke="#1c1c1c" stroke-width="1.0" />
<ellipse cx="1658.0" cy="253.6" rx="6.4" ry="3.5" fill="#fff" stroke="#1c1c1c" stroke-width="1.1"/>
<ellipse cx="1658.0" cy="253.6" rx="4.2" ry="2.1" fill="none" stroke="#1c1c1c" stroke-width="0.8"/>
<path d="M1655.5,252.8 L1660.5,254.4" fill="none" stroke="#1c1c1c" stroke-width="1.0" />
<path d="M1656.0,254.7 L1660.0,252.5" fill="none" stroke="#1c1c1c" stroke-width="1.0" />
<path d="M1655.1,271.6 L1660.9,271.6" fill="none" stroke="#1c1c1c" stroke-width="0.8" />
<circle cx="1613" cy="318.5" r="91.5" fill="none" stroke="#1c1c1c" stroke-width="1.1" stroke-dasharray="3.3,2.3"/>
<path d="M1587.4,160 L1587.4,254 L1588.2,262 L1591.5,266.8 L1594.9,262 L1595.7,254 L1595.7,160 Z" fill="#fff" stroke="#1c1c1c" stroke-width="1.1" />
<path d="M1589.7,255.0 L1590.3,264.0" fill="none" stroke="#1c1c1c" stroke-width="0.8" />
<path d="M1593.4,255.0 L1592.8,264.0" fill="none" stroke="#1c1c1c" stroke-width="0.8" />
<path d="M1587.4,254.0 L1589.7,255.5 L1593.4,255.5 L1595.7,254.0" fill="none" stroke="#1c1c1c" stroke-width="0.8" />
<path d="M1591.25,160.6 L1591.25,156.6 L1591.3,160.6 L1591.35,156.6 L1591.35,160.6 Z" fill="#bdbdbd" stroke="#1c1c1c" stroke-width="1.035" />
<path d="M1578.1,96.6 C1577.8,80.6 1604.8,80.6 1604.5,96.6 C1604.8999999999999,104.6 1607.8,110.6 1607.3,118.6 C1606.8999999999999,127.6 1601.3,130.6 1600.6,137.6 L1600.3999999999999,149.6 C1605.8,151.6 1604.3,159.6 1595.7,161.6 L1586.8999999999999,161.6 C1578.3,159.6 1576.8,151.6 1582.2,149.6 L1582.0,137.6 C1581.3,130.6 1575.7,127.6 1575.3,118.6 C1574.8,110.6 1577.7,104.6 1578.1,96.6 Z" fill="#fff" stroke="#1c1c1c" stroke-width="1.15" />
<path d="M1578.1,97.6 C1581.3,104.1 1601.3,104.1 1604.5,97.6" fill="none" stroke="#1c1c1c" stroke-width="1.15" />
<path d="M1576.7,106.1 C1581.3,114.1 1601.3,114.1 1605.8999999999999,106.1" fill="none" stroke="#1c1c1c" stroke-width="1.15" />
<path d="M1582.0,138.6 C1585.3,142.6 1597.3,142.6 1600.6,138.6" fill="none" stroke="#1c1c1c" stroke-width="1.15" />
<path d="M1582.2,149.6 C1585.3,153.1 1597.3,153.1 1600.3999999999999,149.6" fill="none" stroke="#1c1c1c" stroke-width="1.15" />
<path d="M1606.2,188.6 A 22 22 0 0 1 1581.8,208.6 L1581.8,214.8 A 28.5 28.5 0 0 0 1612.2,188.6 Z" fill="#111" stroke="#1c1c1c" stroke-width="0.3" />
<path d="M1567.2,202.0 L1585.9,203.9 L1575.5,219.4 Z" fill="#111" stroke="#1c1c1c" stroke-width="0.3" />
<circle cx="265.4" cy="590.1" r="21.6" fill="#000"/>
<path d="M940 287V0H672V287H31V498L626 1409H940V496H1128V287ZM672 957Q672 1011 675.5 1074.0Q679 1137 681 1155Q655 1099 587 993L260 496H672Z" fill="#fff" stroke="#fff" stroke-width="28.4" transform="translate(259.86,604.20) scale(0.01587,-0.01587)"/>
<path d="M189.2,694.5 L383.8,582.5 L616.9,716.7" fill="none" stroke="#1c1c1c" stroke-width="1.15" />
<path d="M195.0,697.6 L385.2,587.6" fill="none" stroke="#1c1c1c" stroke-width="1.15" />
<path d="M189.2,694.5 L195.0,697.6 L416.4,825.0" fill="none" stroke="#1c1c1c" stroke-width="1.15" />
<path d="M195.0,706.3 L416.4,831.3" fill="none" stroke="#1c1c1c" stroke-width="1.15" />
<path d="M610.2,713.5 L416.4,825.0" fill="none" stroke="#1c1c1c" stroke-width="1.15" />
<path d="M616.9,716.7 L422.6,828.0" fill="none" stroke="#1c1c1c" stroke-width="1.15" />
<path d="M416.4,825.0 L422.6,828.0" fill="none" stroke="#1c1c1c" stroke-width="1.15" />
<path d="M189.2,694.5 L189.2,771.2" fill="none" stroke="#333" stroke-width="1.0" />
<path d="M195.4,697.6 L195.4,767.4" fill="none" stroke="#1c1c1c" stroke-width="1.35" />
<path d="M416.4,825.0 L416.4,904.4" fill="none" stroke="#1c1c1c" stroke-width="1.15" />
<path d="M422.6,828.0 L422.6,907.9" fill="none" stroke="#1c1c1c" stroke-width="1.15" />
<path d="M616.9,716.7 L616.9,795.0" fill="none" stroke="#333" stroke-width="1.0" />
<path d="M422.6,907.9 L616.9,795.0" fill="none" stroke="#1c1c1c" stroke-width="1.15" />
<path d="M416.4,904.4 L422.6,907.9" fill="none" stroke="#1c1c1c" stroke-width="1.15" />
<path d="M200.6,780.1 L383.9,886.0" fill="none" stroke="#1c1c1c" stroke-width="1.15" />
<path d="M205.8,776.3 L390.5,882.0" fill="none" stroke="#1c1c1c" stroke-width="1.15" />
<path d="M397.6,893.9 L416.4,904.4" fill="none" stroke="#1c1c1c" stroke-width="1.15" />
<path d="M404.1,889.5 L416.4,896.5" fill="none" stroke="#1c1c1c" stroke-width="0.9" stroke-dasharray="1.2,0.8" />
<path d="M404.1,891.2 L416.4,898.2" fill="none" stroke="#1c1c1c" stroke-width="0.8" />
<path d="M195.6,747.6 L232.7,726.3" fill="none" stroke="#1c1c1c" stroke-width="0.8" />
<path d="M195.6,749.5 L232.7,728.2" fill="none" stroke="#1c1c1c" stroke-width="0.8" />
<path d="M195.6,751.4 L232.7,730.1" fill="none" stroke="#1c1c1c" stroke-width="0.8" />
<path d="M196.9,761.8 L222.0,747.6" fill="none" stroke="#1c1c1c" stroke-width="0.9" />
<path d="M196.9,765.7 L249.3,739.2" fill="none" stroke="#1c1c1c" stroke-width="1.0" />
<path d="M228.0,744.0 L246.0,734.2" fill="none" stroke="#1c1c1c" stroke-width="0.9" />
<path d="M229.0,746.0 L247.0,736.4" fill="none" stroke="#1c1c1c" stroke-width="0.9" />
<path d="M244.1,734.3 L249.6,737.5 L249.6,740.0" fill="none" stroke="#1c1c1c" stroke-width="0.9" />
<path d="M220.5,751.0 L224.5,748.5 L225.5,745.5 L234.0,745.0" fill="none" stroke="#1c1c1c" stroke-width="1.2" />
<path d="M239.0,743.0 L243.0,741.0 L244.5,738.5 L241.0,738.5" fill="none" stroke="#1c1c1c" stroke-width="1.2" />
<circle cx="199.3" cy="753.2" r="1.55" fill="none" stroke="#1c1c1c" stroke-width="0.85"/>
<circle cx="199.3" cy="757.6" r="1.55" fill="none" stroke="#1c1c1c" stroke-width="0.85"/>
<circle cx="203" cy="751" r="1.55" fill="none" stroke="#1c1c1c" stroke-width="0.85"/>
<circle cx="203" cy="755.5" r="1.55" fill="none" stroke="#1c1c1c" stroke-width="0.85"/>
<circle cx="206.7" cy="748.8" r="1.55" fill="none" stroke="#1c1c1c" stroke-width="0.85"/>
<circle cx="206.7" cy="753.3" r="1.55" fill="none" stroke="#1c1c1c" stroke-width="0.85"/>
<circle cx="210.4" cy="746.6" r="1.55" fill="none" stroke="#1c1c1c" stroke-width="0.85"/>
<circle cx="210.4" cy="751.1" r="1.55" fill="none" stroke="#1c1c1c" stroke-width="0.85"/>
<circle cx="199.5" cy="749" r="1.55" fill="none" stroke="#1c1c1c" stroke-width="0.85"/>
<circle cx="203.2" cy="746.9" r="1.55" fill="none" stroke="#1c1c1c" stroke-width="0.85"/>
<circle cx="222" cy="739" r="1.7" fill="none" stroke="#1c1c1c" stroke-width="0.85"/>
<circle cx="226" cy="736.6" r="1.7" fill="none" stroke="#1c1c1c" stroke-width="0.85"/>
<circle cx="222" cy="743.8" r="1.7" fill="none" stroke="#1c1c1c" stroke-width="0.85"/>
<circle cx="226" cy="741.4" r="1.7" fill="none" stroke="#1c1c1c" stroke-width="0.85"/>
<circle cx="222.3" cy="746.8" r="1.7" fill="none" stroke="#1c1c1c" stroke-width="0.85"/>
<path d="M115.6,812.7 L189.1,771.2" fill="none" stroke="#1c1c1c" stroke-width="1.15" />
<path d="M116.2,821.0 L254.4,742.8 L255.6,747.5" fill="none" stroke="#1c1c1c" stroke-width="1.15" />
<path d="M116.9,827.2 L255.6,747.5" fill="none" stroke="#1c1c1c" stroke-width="1.15" />
<path d="M116.2,827.6 L116.2,821.0 L109.2,817.4 L112.4,814.4 L115.6,812.7" fill="none" stroke="#1c1c1c" stroke-width="1.3" />
<path d="M109.2,817.4 L109.2,824.4 L112.2,822.6" fill="none" stroke="#1c1c1c" stroke-width="1.6" />
<path d="M116.2,827.6 L112.0,825.4 L114.6,823.8" fill="none" stroke="#1c1c1c" stroke-width="1.6" />
<path d="M110.4,819.4 L113.4,821.2 L110.4,823.0" fill="none" stroke="#1c1c1c" stroke-width="0.9" />
<ellipse cx="113.8" cy="812.4" rx="1.7" ry="1.9" fill="#fff" stroke="#1c1c1c" stroke-width="1.4"/>
<path d="M120.2,819.6 L128.3,815.0 L128.9,820.4 L120.6,824.6 Z" fill="none" stroke="#1c1c1c" stroke-width="1.1" />
<path d="M121.0,821.6 L128.4,817.6" fill="none" stroke="#1c1c1c" stroke-width="0.8" stroke-dasharray="1.4,0.9" />
<path d="M121.0,823.2 L128.5,819.2" fill="none" stroke="#1c1c1c" stroke-width="0.9" />
<path d="M133.6,811.5 L137.5,809.4 L137.0,811.6" fill="none" stroke="#1c1c1c" stroke-width="1.1" />
<path d="M254.4,742.8 L257.5,741.2 L257.8,745.8 L255.6,747.5" fill="none" stroke="#555" stroke-width="0.8" />
<path d="M307.6,930.3 L416.4,868.4" fill="none" stroke="#1c1c1c" stroke-width="1.15" />
<path d="M313.5,933.8 L416.4,876.3" fill="none" stroke="#1c1c1c" stroke-width="1.15" />
<path d="M326.9,932.5 L416.4,882.9" fill="none" stroke="#1c1c1c" stroke-width="1.15" />
<path d="M306.2,930.8 L306.2,937.8 L313.5,941.3 L313.5,933.8 L306.2,930.8 L307.6,930.3" fill="none" stroke="#1c1c1c" stroke-width="1.2" />
<path d="M307.9,933.2 L307.9,936.6 L311.8,938.6" fill="none" stroke="#1c1c1c" stroke-width="0.8" />
<path d="M307.9,936.6 L310.5,934.8" fill="none" stroke="#1c1c1c" stroke-width="0.7" />
<path d="M318.5,936.0 L320.0,932.0 L325.0,930.5 L326.0,934.5 L328.5,935.5 L325.0,939.0 L320.0,940.0 Z" fill="none" stroke="#1c1c1c" stroke-width="1.0" />
<ellipse cx="322.5" cy="936.8" rx="2.6" ry="1.6" fill="none" stroke="#1c1c1c" stroke-width="1.3"/>
<path d="M321.2,932.0 L321.2,938.5" fill="none" stroke="#1c1c1c" stroke-width="1.0" />
<path d="M323.8,931.2 L323.8,937.5" fill="none" stroke="#1c1c1c" stroke-width="1.0" />
<path d="M332.2,925.5 L334.5,924.3" fill="none" stroke="#1c1c1c" stroke-width="1.1" />
<path d="M333.0,929.2 L338.2,926.6 L338.4,931.0" fill="none" stroke="#1c1c1c" stroke-width="1.2" />
<path d="M261.4,835.2 L267.2,838.3 L244.2,853.5 L249.0,856.5 L214.0,866.8 L230.5,845.6 L237.7,849.3 Z" fill="#000" stroke="#000" stroke-width="0.4" />
<circle cx="1317.2" cy="538" r="21.6" fill="#000"/>
<path d="M1082 469Q1082 245 942.5 112.5Q803 -20 560 -20Q348 -20 220.5 75.5Q93 171 63 352L344 375Q366 285 422.0 244.0Q478 203 563 203Q668 203 730.5 270.0Q793 337 793 463Q793 574 734.0 640.5Q675 707 569 707Q452 707 378 616H104L153 1409H1000V1200H408L385 844Q487 934 640 934Q841 934 961.5 809.0Q1082 684 1082 469Z" fill="#fff" stroke="#fff" stroke-width="28.4" transform="translate(1311.66,552.10) scale(0.01587,-0.01587)"/>
<path d="M1310.4,608.0 L1528.8,732.5" fill="none" stroke="#7a7a7a" stroke-width="0.95" stroke-dasharray="3.4,2.4" stroke-linecap="butt"/>
<path d="M1528.8,732.5 L1528.8,821.2" fill="none" stroke="#7a7a7a" stroke-width="0.95" stroke-dasharray="3.4,2.4" stroke-linecap="butt"/>
<path d="M1310.4,608.0 L1050.8,758.2" fill="none" stroke="#7a7a7a" stroke-width="0.95" stroke-dasharray="3.4,2.4" stroke-linecap="butt"/>
<path d="M1050.8,758.2 L1050.8,846.2" fill="none" stroke="#7a7a7a" stroke-width="0.95" stroke-dasharray="3.4,2.4" stroke-linecap="butt"/>
<path d="M1050.8,758.2 L1267.5,882.5" fill="none" stroke="#7a7a7a" stroke-width="0.95" stroke-dasharray="3.4,2.4" stroke-linecap="butt"/>
<path d="M1528.8,732.5 L1267.5,882.5" fill="none" stroke="#7a7a7a" stroke-width="0.95" stroke-dasharray="3.4,2.4" stroke-linecap="butt"/>
<path d="M1267.5,882.5 L1267.5,971.2" fill="none" stroke="#7a7a7a" stroke-width="0.95" stroke-dasharray="3.4,2.4" stroke-linecap="butt"/>
<path d="M1050.8,846.2 L1267.5,971.2" fill="none" stroke="#7a7a7a" stroke-width="0.95" stroke-dasharray="3.4,2.4" stroke-linecap="butt"/>
<path d="M1528.8,821.2 L1267.5,971.2" fill="none" stroke="#7a7a7a" stroke-width="0.95" stroke-dasharray="3.4,2.4" stroke-linecap="butt"/>
<path d="M1310.4,608.0 L1310.4,696.2" fill="none" stroke="#7a7a7a" stroke-width="0.95" stroke-dasharray="3.4,2.4" stroke-linecap="butt"/>
<path d="M1310.4,696.2 L1050.8,846.2" fill="none" stroke="#7a7a7a" stroke-width="0.95" stroke-dasharray="3.4,2.4" stroke-linecap="butt"/>
<path d="M1310.4,696.2 L1528.8,821.2" fill="none" stroke="#7a7a7a" stroke-width="0.95" stroke-dasharray="3.4,2.4" stroke-linecap="butt"/>
<path d="M907.5,630.5 L1168.2,480.5 L1176.8,486.2 L1172.6,541.5" fill="none" stroke="#1c1c1c" stroke-width="1.15" />
<path d="M916.2,635.0 L1176.8,486.2" fill="none" stroke="#1c1c1c" stroke-width="1.15" />
<path d="M907.5,630.5 L900.0,726.2 L908.7,732.3 L916.2,635.0 L907.5,630.5" fill="none" stroke="#1c1c1c" stroke-width="1.15" />
<path d="M908.7,732.3 L920.8,725.3" fill="none" stroke="#1c1c1c" stroke-width="1.15" />
<path d="M943.8,696.2 L1162.5,570.0 L1321.2,677.5" fill="none" stroke="#1c1c1c" stroke-width="1.15" />
<path d="M1164.2,540.0 L1162.5,570.0" fill="none" stroke="#1c1c1c" stroke-width="1.15" />
<path d="M1164.2,540.0 L1355.0,668.8" fill="none" stroke="#1c1c1c" stroke-width="1.15" />
<path d="M1165.2,545.3 L1345.0,665.0" fill="none" stroke="#1c1c1c" stroke-width="1.15" />
<path d="M1152.0,547.5 L1164.2,541.3 L1162.5,568.8 L1151.2,574.2 Z" fill="#fff" stroke="#1c1c1c" stroke-width="1.5" />
<path d="M1152.0,547.5 L1151.2,574.2" fill="none" stroke="#1c1c1c" stroke-width="2.0" />
<path d="M1151.8,553.9 L1163.8,547.9" fill="none" stroke="#1c1c1c" stroke-width="1.3" />
<path d="M1151.4,568.6 L1162.9,563.0" fill="none" stroke="#1c1c1c" stroke-width="1.3" />
<path d="M1153.4,548.1 L1162.3,543.6" fill="none" stroke="#1c1c1c" stroke-width="0.9" />
<path d="M1153.3,551.3 L1162.1,546.9" fill="none" stroke="#1c1c1c" stroke-width="0.9" />
<path d="M1152.7,569.8 L1161.0,565.8" fill="none" stroke="#1c1c1c" stroke-width="0.9" />
<path d="M1152.6,572.5 L1160.9,568.5" fill="none" stroke="#1c1c1c" stroke-width="0.9" />
<ellipse cx="1154.9" cy="550.0" rx="1.3" ry="0.9" fill="none" stroke="#1c1c1c" stroke-width="0.9" transform="rotate(-28 1154.9 550.0)"/>
<ellipse cx="1154.2" cy="569.6" rx="1.3" ry="0.9" fill="none" stroke="#1c1c1c" stroke-width="0.9" transform="rotate(-28 1154.2 569.6)"/>
<ellipse cx="1155.9" cy="559.2" rx="1.0" ry="2.2" fill="none" stroke="#1c1c1c" stroke-width="1.0" transform="rotate(10 1155.9 559.2)"/>
<path d="M1156.7,558.2 L1160.7,555.4 L1160.9,557.6 L1158.1,559.6 Z" fill="#222" stroke="#222" stroke-width="0.8"/>
<circle cx="1157.3" cy="555.4" r="0.8" fill="#222"/><circle cx="1157.7" cy="562.0" r="0.9" fill="#222"/>
<path d="M1345.0,665.0 L1103.5,804.0" fill="none" stroke="#1c1c1c" stroke-width="1.15" />
<path d="M1355.0,668.8 L1121.3,801.5" fill="none" stroke="#1c1c1c" stroke-width="1.15" />
<path d="M1340.4,705.8 L1119.8,834.3" fill="none" stroke="#1c1c1c" stroke-width="1.15" />
<path d="M1341.2,716.2 L1123.0,842.0" fill="none" stroke="#1c1c1c" stroke-width="1.15" />
<path d="M1345.0,665.0 L1355.0,668.8" fill="none" stroke="#1c1c1c" stroke-width="0.9" />
<path d="M1342.7,675.8 L1355.4,670.2 L1353.3,700.0" fill="none" stroke="#1c1c1c" stroke-width="1.15" />
<path d="M1342.7,675.8 L1340.4,705.8 L1353.3,700.0" fill="none" stroke="#1c1c1c" stroke-width="1.15" />
<path d="M1343.0,679.2 L1355.0,673.8" fill="none" stroke="#1c1c1c" stroke-width="0.8" />
<ellipse cx="1345.0" cy="682.5" rx="1.1" ry="1.5" fill="none" stroke="#1c1c1c" stroke-width="0.95"/>
<ellipse cx="1344.3" cy="691.3" rx="1.1" ry="1.5" fill="none" stroke="#1c1c1c" stroke-width="0.95"/>
<ellipse cx="1343.5" cy="700.0" rx="1.1" ry="1.5" fill="none" stroke="#1c1c1c" stroke-width="0.95"/>
<path d="M1343.9,707.0 L1351.0,711.0 L1351.0,714.8 L1346.0,717.3 L1345.0,713.0" fill="none" stroke="#1c1c1c" stroke-width="1.1" />
<path d="M1346.5,708.0 L1347.5,716.0" fill="none" stroke="#1c1c1c" stroke-width="1.2" />
<path d="M1349.0,709.5 L1349.5,715.0" fill="none" stroke="#1c1c1c" stroke-width="0.9" />
<path d="M1354.3,695.3 L1445.2,747.0 L1445.2,769.7 L1433.8,776.8 L1432.3,775.7 L1432.3,769.0" fill="none" stroke="#1c1c1c" stroke-width="1.15" />
<path d="M1354.3,698.1 L1444.2,749.6" fill="none" stroke="#1c1c1c" stroke-width="0.95" />
<path d="M1351.7,709.5 L1442.9,762.5" fill="none" stroke="#1c1c1c" stroke-width="0.95" />
<path d="M1353.0,717.3 L1432.5,768.4" fill="none" stroke="#1c1c1c" stroke-width="0.95" />
<path d="M1347.8,720.5 L1432.3,769.7 L1445.2,762.3" fill="none" stroke="#1c1c1c" stroke-width="0.95" />
<path d="M1347.8,720.5 L1347.8,727.6 L1433.8,776.8" fill="none" stroke="#1c1c1c" stroke-width="1.15" />
<path d="M1339.0,716.0 L1347.8,720.8" fill="none" stroke="#1c1c1c" stroke-width="0.9" />
<path d="M1334.5,718.8 L1347.8,726.5" fill="none" stroke="#1c1c1c" stroke-width="0.9" />
<path d="M1352.5,712.6 L1440.0,763.8" fill="none" stroke="#1c1c1c" stroke-width="0.85" />
<circle cx="1375.6" cy="713.4" r="1.75" fill="none" stroke="#1c1c1c" stroke-width="1.0"/>
<circle cx="1379.8" cy="715.8" r="1.75" fill="none" stroke="#1c1c1c" stroke-width="1.0"/>
<circle cx="1383.9" cy="718.2" r="1.75" fill="none" stroke="#1c1c1c" stroke-width="1.0"/>
<circle cx="1375.6" cy="719.6" r="1.75" fill="none" stroke="#1c1c1c" stroke-width="1.0"/>
<circle cx="1379.8" cy="722.0" r="1.75" fill="none" stroke="#1c1c1c" stroke-width="1.0"/>
<circle cx="1383.9" cy="724.4" r="1.75" fill="none" stroke="#1c1c1c" stroke-width="1.0"/>
<circle cx="1418.3" cy="738.0" r="1.75" fill="none" stroke="#1c1c1c" stroke-width="1.0"/>
<circle cx="1422.5" cy="740.4" r="1.75" fill="none" stroke="#1c1c1c" stroke-width="1.0"/>
<circle cx="1426.6" cy="742.8" r="1.75" fill="none" stroke="#1c1c1c" stroke-width="1.0"/>
<circle cx="1418.3" cy="744.2" r="1.75" fill="none" stroke="#1c1c1c" stroke-width="1.0"/>
<circle cx="1422.5" cy="746.6" r="1.75" fill="none" stroke="#1c1c1c" stroke-width="1.0"/>
<circle cx="1426.6" cy="749.0" r="1.75" fill="none" stroke="#1c1c1c" stroke-width="1.0"/>
<path d="M1353.5,720.3 L1386.5,739.3" fill="none" stroke="#222" stroke-width="3.0" stroke-dasharray="1.1,0.6" stroke-linecap="butt"/>
<path d="M1376.0,733.8 L1386.8,740.0" fill="none" stroke="#222" stroke-width="2.2" />
<path d="M1388.0,740.2 L1428.0,763.0" fill="none" stroke="#777" stroke-width="1.0" stroke-dasharray="1.6,1.6" stroke-linecap="butt"/>
<path d="M1429.0,762.0 L1432.0,765.5 L1435.0,764.0" fill="none" stroke="#1c1c1c" stroke-width="1.6" />
<path d="M1436.5,766.5 L1441.0,767.8 L1442.0,765.0" fill="none" stroke="#1c1c1c" stroke-width="1.3" />
<path d="M920.0,681.6 L1103.5,804.0" fill="none" stroke="#1c1c1c" stroke-width="1.15" />
<path d="M917.8,686.5 L1108.6,813.7" fill="none" stroke="#1c1c1c" stroke-width="1.15" />
<path d="M917.8,682.4 L915.5,720.5 L1060.6,817.8" fill="none" stroke="#1c1c1c" stroke-width="1.15" />
<path d="M917.8,682.4 L920.0,681.6 L931.4,676.3 L931.4,688.3" fill="none" stroke="#1c1c1c" stroke-width="1.15" />
<path d="M922.5,681.8 L929.6,678.6 L929.6,686.5" fill="none" stroke="#1c1c1c" stroke-width="0.8" />
<ellipse cx="927.3" cy="681.2" rx="1.0" ry="1.4" fill="none" stroke="#1c1c1c" stroke-width="0.8"/>
<path d="M966.0,757.6 L996.0,777.8 L1060.6,820.0" fill="none" stroke="#1c1c1c" stroke-width="0.85" />
<path d="M998.0,778.2 L1024.0,795.4" fill="none" stroke="#333" stroke-width="1.5" />
<path d="M986.6,781.6 L1060.6,823.2" fill="none" stroke="#1c1c1c" stroke-width="1.15" />
<path d="M1108.6,813.7 L1121.3,806.2 L1119.8,834.3 L1106.4,841.8 Z" fill="#fff" stroke="#1c1c1c" stroke-width="1.15" />
<path d="M1103.5,804.0 L1108.6,808.3 L1121.3,801.5 L1121.3,806.2" fill="none" stroke="#1c1c1c" stroke-width="1.15" />
<path d="M1108.6,808.3 L1108.6,813.7" fill="none" stroke="#1c1c1c" stroke-width="1.15" />
<path d="M1110.0,810.0 L1120.0,804.6" fill="none" stroke="#555" stroke-width="0.8" stroke-dasharray="1.2,1" />
<ellipse cx="1118.8" cy="813.1" rx="0.9" ry="1.4" fill="none" stroke="#1c1c1c" stroke-width="0.85"/>
<ellipse cx="1118.3" cy="821.6" rx="0.9" ry="1.4" fill="none" stroke="#1c1c1c" stroke-width="0.85"/>
<ellipse cx="1117.6" cy="830.5" rx="0.9" ry="1.4" fill="none" stroke="#1c1c1c" stroke-width="0.85"/>
<path d="M1116.0,820.5 L1119.5,819.5" fill="none" stroke="#1c1c1c" stroke-width="1.2" />
<path d="M1060.6,816.8 L1206.3,899.9" fill="none" stroke="#1c1c1c" stroke-width="1.15" />
<path d="M1120.5,847.2 L1209.4,897.9 L1206.3,899.9 L1206.3,907.6 L1193.5,915.2 L1060.6,839.3" fill="none" stroke="#1c1c1c" stroke-width="1.15" />
<path d="M1060.6,816.8 L1060.6,839.3" fill="none" stroke="#1c1c1c" stroke-width="1.3" />
<path d="M1060.6,819.3 L1193.5,893.0" fill="none" stroke="#1c1c1c" stroke-width="1.0" />
<path d="M1193.5,892.3 L1193.5,915.2" fill="none" stroke="#1c1c1c" stroke-width="1.15" />
<path d="M1064.0,835.2 L1066.0,837.6 L1068.0,837.2 L1193.5,908.3" fill="none" stroke="#1c1c1c" stroke-width="1.0" />
<path d="M1193.5,900.6 L1205.8,907.9" fill="none" stroke="#1c1c1c" stroke-width="0.95" />
<circle cx="1063.7" cy="823.1" r="1.55" fill="none" stroke="#1c1c1c" stroke-width="1.0"/>
<circle cx="1067.7" cy="825.2" r="1.55" fill="none" stroke="#1c1c1c" stroke-width="1.0"/>
<circle cx="1071.8" cy="827.3" r="1.55" fill="none" stroke="#1c1c1c" stroke-width="1.0"/>
<circle cx="1075.9" cy="829.9" r="1.55" fill="none" stroke="#1c1c1c" stroke-width="1.0"/>
<circle cx="1063.7" cy="829.7" r="1.55" fill="none" stroke="#1c1c1c" stroke-width="1.0"/>
<circle cx="1067.7" cy="831.8" r="1.55" fill="none" stroke="#1c1c1c" stroke-width="1.0"/>
<circle cx="1071.8" cy="833.9" r="1.55" fill="none" stroke="#1c1c1c" stroke-width="1.0"/>
<circle cx="1075.9" cy="836.4" r="1.55" fill="none" stroke="#1c1c1c" stroke-width="1.0"/>
<circle cx="1090.2" cy="837.6" r="1.6" fill="none" stroke="#1c1c1c" stroke-width="1.0"/>
<circle cx="1094.0" cy="840.5" r="1.6" fill="none" stroke="#1c1c1c" stroke-width="1.0"/>
<circle cx="1090.2" cy="844.3" r="1.6" fill="none" stroke="#1c1c1c" stroke-width="1.0"/>
<circle cx="1094.0" cy="847.0" r="1.6" fill="none" stroke="#1c1c1c" stroke-width="1.0"/>
<circle cx="1124.8" cy="858.0" r="1.55" fill="none" stroke="#1c1c1c" stroke-width="1.0"/>
<circle cx="1128.8" cy="860.5" r="1.55" fill="none" stroke="#1c1c1c" stroke-width="1.0"/>
<circle cx="1132.9" cy="862.6" r="1.55" fill="none" stroke="#1c1c1c" stroke-width="1.0"/>
<circle cx="1124.8" cy="864.5" r="1.55" fill="none" stroke="#1c1c1c" stroke-width="1.0"/>
<circle cx="1128.8" cy="867.0" r="1.55" fill="none" stroke="#1c1c1c" stroke-width="1.0"/>
<circle cx="1132.9" cy="869.1" r="1.55" fill="none" stroke="#1c1c1c" stroke-width="1.0"/>
<circle cx="1167.9" cy="882.6" r="1.55" fill="none" stroke="#1c1c1c" stroke-width="1.0"/>
<circle cx="1171.6" cy="884.8" r="1.55" fill="none" stroke="#1c1c1c" stroke-width="1.0"/>
<circle cx="1175.6" cy="887.0" r="1.55" fill="none" stroke="#1c1c1c" stroke-width="1.0"/>
<circle cx="1167.9" cy="889.2" r="1.55" fill="none" stroke="#1c1c1c" stroke-width="1.0"/>
<circle cx="1171.6" cy="891.4" r="1.55" fill="none" stroke="#1c1c1c" stroke-width="1.0"/>
<circle cx="1175.6" cy="893.5" r="1.55" fill="none" stroke="#1c1c1c" stroke-width="1.0"/>
<path d="M1106.4,841.8 L1112.0,845.2 L1112.0,849.5 L1117.0,852.5" fill="none" stroke="#1c1c1c" stroke-width="1.0" />
<path d="M1113.5,841.0 L1113.5,848.5 L1117.5,851.0 L1117.5,843.5 L1113.5,841.0 L1117.0,838.6 L1121.5,841.2 L1121.5,848.8 L1117.5,851.0" fill="#fff" stroke="#1c1c1c" stroke-width="1.1" />
<path d="M1118.6,843.5 L1120.6,842.4 L1120.3,846.5 L1118.8,850.0" fill="none" stroke="#1c1c1c" stroke-width="1.3" />
<path d="M1121.5,846.2 L1127.5,849.6 L1127.5,853.0 L1123.0,855.6" fill="none" stroke="#1c1c1c" stroke-width="1.0" />
<path d="M1123.0,851.8 L1127.5,849.6" fill="none" stroke="#1c1c1c" stroke-width="0.8" />
<path d="M1119.8,834.3 L1121.5,841.2" fill="none" stroke="#1c1c1c" stroke-width="0.9" />
<circle cx="1116.7" cy="839.8" r="20" fill="none" stroke="#1c1c1c" stroke-width="1.05" stroke-dasharray="3.2,2.2"/>
<path d="M1103.6,854.9 L1052.3,911.6" fill="none" stroke="#1c1c1c" stroke-width="1.05" stroke-dasharray="3.6,2.4" stroke-linecap="butt"/>
<path d="M961.0,752.5 L962.5,755.2 L967.5,758.3 L969.2,757.2" fill="none" stroke="#1c1c1c" stroke-width="1.0" />
<path d="M962.3,758.3 L962.0,766.8 L964.8,768.4" fill="none" stroke="#1c1c1c" stroke-width="1.0" />
<path d="M962.3,758.3 L963.5,757.6 L975.5,765.2 L975.8,773.6 L972.5,775.4" fill="none" stroke="#1c1c1c" stroke-width="1.0" />
<path d="M963.3,770.8 L965.8,765 L968.2,763.4 L970.4,765 L972.6,770.8 Q972.8,773.6 968.3,774.2 Q964,774 963.3,770.8 Z" fill="#222" stroke="#1c1c1c" stroke-width="0.8" />
<ellipse cx="968.2" cy="766.2" rx="1.5" ry="2.0" fill="#fff" stroke="#fff" stroke-width="0.6"/>
<path d="M966.5,769.2 L970.0,769.2" fill="none" stroke="#fff" stroke-width="0.6" />
<path d="M983.6,771.0 L985.6,772.2 L985.6,775.0 L983.6,773.8 Z" fill="none" stroke="#1c1c1c" stroke-width="0.9" />
<path d="M983.5,777.5 L987.5,780.0" fill="none" stroke="#1c1c1c" stroke-width="1.2" />
<rect x="985.5" y="780" width="2.3" height="5.6" rx="0.8" fill="#fff" stroke="#1c1c1c" stroke-width="0.9"/>
<circle cx="970.8" cy="768.8" r="19" fill="none" stroke="#1c1c1c" stroke-width="1.05" stroke-dasharray="3.2,2.2"/>
<path d="M953.4,776.6 L912.5,797.6" fill="none" stroke="#1c1c1c" stroke-width="1.05" stroke-dasharray="3.6,2.4" stroke-linecap="butt"/>
<clipPath id="c51"><circle cx="839.8" cy="848.6" r="89"/></clipPath><g clip-path="url(#c51)">
<path d="M796.0,766.6 L932.0,858.6" fill="none" stroke="#1c1c1c" stroke-width="1.15" />
<path d="M795.5,772.5 L795.5,779.5 Q795.8,782.3 798,783.8 L820,800 Q822,801.2 824.5,800.9 L827.6,800.6 L837,794.6" fill="none" stroke="#1c1c1c" stroke-width="1.1" />
<path d="M810.2,794.4 L930.0,872.2" fill="none" stroke="#1c1c1c" stroke-width="1.15" />
<path d="M810.2,794.4 L803.2,798.4 Q798.8,800.8 798.8,804.5 L798.8,836.9 L815,846" fill="none" stroke="#1c1c1c" stroke-width="1.1" />
<path d="M805.5,853.2 L803.8,856 Q803.2,858.8 806.5,860.9 L833.5,877 Q838.8,879.4 843.5,878.5 L859.5,869 Q862,867.4 862,864.5 L862,847.2 Q861.8,842.8 858.3,840.6 L840.5,830 Q835,826.5 832.4,823.4 Q828.5,820.6 825,821.2 Q822.6,822.5 822.3,825.8" fill="none" stroke="#1c1c1c" stroke-width="1.1" />
<path d="M830.5,850.2 L862.0,866.8" fill="none" stroke="#1c1c1c" stroke-width="1.0" />
<path d="M858.3,870.1 L915.0,904.5" fill="none" stroke="#1c1c1c" stroke-width="1.15" />
<ellipse cx="822.6" cy="860.2" rx="15.6" ry="7.2" fill="#1c1c1c" stroke="#1c1c1c" stroke-width="1.0"/>
<ellipse cx="822.6" cy="857.0" rx="15.6" ry="7.2" fill="#fff" stroke="#1c1c1c" stroke-width="1.0"/>
<path d="M838.1,859.0 L838.1,861.1" fill="none" stroke="#bbb" stroke-width="0.45" />
<path d="M837.8,859.6 L837.8,861.7" fill="none" stroke="#bbb" stroke-width="0.45" />
<path d="M837.5,860.2 L837.5,862.3" fill="none" stroke="#bbb" stroke-width="0.45" />
<path d="M837.0,860.8 L837.0,862.9" fill="none" stroke="#bbb" stroke-width="0.45" />
<path d="M836.5,861.4 L836.5,863.5" fill="none" stroke="#bbb" stroke-width="0.45" />
<path d="M835.8,861.9 L835.8,864.0" fill="none" stroke="#bbb" stroke-width="0.45" />
<path d="M835.0,862.5 L835.0,864.6" fill="none" stroke="#bbb" stroke-width="0.45" />
<path d="M834.1,862.9 L834.1,865.0" fill="none" stroke="#bbb" stroke-width="0.45" />
<path d="M833.2,863.4 L833.2,865.5" fill="none" stroke="#bbb" stroke-width="0.45" />
<path d="M832.1,863.8 L832.1,865.9" fill="none" stroke="#bbb" stroke-width="0.45" />
<path d="M831.0,864.2 L831.0,866.3" fill="none" stroke="#bbb" stroke-width="0.45" />
<path d="M829.8,864.5 L829.8,866.6" fill="none" stroke="#bbb" stroke-width="0.45" />
<path d="M828.6,864.7 L828.6,866.8" fill="none" stroke="#bbb" stroke-width="0.45" />
<path d="M827.3,865.0 L827.3,867.1" fill="none" stroke="#bbb" stroke-width="0.45" />
<path d="M826.0,865.1 L826.0,867.2" fill="none" stroke="#bbb" stroke-width="0.45" />
<path d="M824.6,865.2 L824.6,867.3" fill="none" stroke="#bbb" stroke-width="0.45" />
<path d="M823.3,865.3 L823.3,867.4" fill="none" stroke="#bbb" stroke-width="0.45" />
<path d="M821.9,865.3 L821.9,867.4" fill="none" stroke="#bbb" stroke-width="0.45" />
<path d="M820.6,865.2 L820.6,867.3" fill="none" stroke="#bbb" stroke-width="0.45" />
<path d="M819.2,865.1 L819.2,867.2" fill="none" stroke="#bbb" stroke-width="0.45" />
<path d="M817.9,865.0 L817.9,867.1" fill="none" stroke="#bbb" stroke-width="0.45" />
<path d="M816.6,864.7 L816.6,866.8" fill="none" stroke="#bbb" stroke-width="0.45" />
<path d="M815.4,864.5 L815.4,866.6" fill="none" stroke="#bbb" stroke-width="0.45" />
<path d="M814.2,864.2 L814.2,866.3" fill="none" stroke="#bbb" stroke-width="0.45" />
<path d="M813.1,863.8 L813.1,865.9" fill="none" stroke="#bbb" stroke-width="0.45" />
<path d="M812.0,863.4 L812.0,865.5" fill="none" stroke="#bbb" stroke-width="0.45" />
<path d="M811.1,862.9 L811.1,865.0" fill="none" stroke="#bbb" stroke-width="0.45" />
<path d="M810.2,862.5 L810.2,864.6" fill="none" stroke="#bbb" stroke-width="0.45" />
<path d="M809.4,861.9 L809.4,864.0" fill="none" stroke="#bbb" stroke-width="0.45" />
<path d="M808.7,861.4 L808.7,863.5" fill="none" stroke="#bbb" stroke-width="0.45" />
<path d="M808.2,860.8 L808.2,862.9" fill="none" stroke="#bbb" stroke-width="0.45" />
<path d="M807.7,860.2 L807.7,862.3" fill="none" stroke="#bbb" stroke-width="0.45" />
<path d="M807.4,859.6 L807.4,861.7" fill="none" stroke="#bbb" stroke-width="0.45" />
<path d="M807.1,859.0 L807.1,861.1" fill="none" stroke="#bbb" stroke-width="0.45" />
<ellipse cx="822.6" cy="856.0" rx="9.4" ry="4.2" fill="none" stroke="#1c1c1c" stroke-width="0.9"/>
<path d="M814.9,833.5 L814.9,853.8 Q822.6,859.4 830.9,853.8 L830.9,833.5 Q830.9,828 822.9,827.4 Q814.9,828 814.9,833.5 Z" fill="#fff" stroke="#1c1c1c" stroke-width="1.1" />
<path d="M814.9,843.5 Q822.6,849 830.9,843.5" fill="none" stroke="#1c1c1c" stroke-width="0.9" />
<ellipse cx="839.5" cy="867.7" rx="6.0" ry="3.9" fill="none" stroke="#1c1c1c" stroke-width="1.0"/>
<path d="M899.0,861.8 L908.6,867.4 L908.6,877.2 L899.0,871.1 Z" fill="none" stroke="#1c1c1c" stroke-width="1.0" />
</g>
<circle cx="839.8" cy="848.6" r="89" fill="none" stroke="#1c1c1c" stroke-width="1.1" stroke-dasharray="3.3,2.3"/>
<clipPath id="c52"><circle cx="987.2" cy="980.2" r="93.2"/></clipPath><g clip-path="url(#c52)">
<path d="M946.0,886.0 L937.7,992.9" fill="none" stroke="#1c1c1c" stroke-width="1.15" />
<path d="M1003.4,886.0 L998.1,954.1" fill="none" stroke="#1c1c1c" stroke-width="1.15" />
<ellipse cx="993.1" cy="897.3" rx="4.6" ry="8.6" fill="none" stroke="#1c1c1c" stroke-width="1.0" transform="rotate(22 993.1 897.3)"/>
<ellipse cx="989.8" cy="937.5" rx="4.8" ry="9.0" fill="none" stroke="#1c1c1c" stroke-width="1.0" transform="rotate(20 989.8 937.5)"/>
<ellipse cx="993.9" cy="897.6" rx="3.4" ry="7.2" fill="none" stroke="#1c1c1c" stroke-width="0.7" transform="rotate(22 993.9 897.6)"/>
<ellipse cx="990.6" cy="937.8" rx="3.6" ry="7.6" fill="none" stroke="#1c1c1c" stroke-width="0.7" transform="rotate(20 990.6 937.8)"/>
<path d="M998.1,954.1 L1062.0,917.6" fill="none" stroke="#1c1c1c" stroke-width="1.15" />
<path d="M1017.2,978.1 L1078.0,943.2" fill="none" stroke="#1c1c1c" stroke-width="1.15" />
<path d="M998.1,954.1 L944.5,985.2 Q941.5,987.2 940.5,990 L937.7,992.9" fill="none" stroke="#1c1c1c" stroke-width="1.1" />
<path d="M951.5,981.8 L956.8,985.8 Q959.5,987.2 962.6,987 L979.3,977.2" fill="none" stroke="#1c1c1c" stroke-width="1.0" />
<path d="M998.6,954.6 L1014.6,966.6 Q1016.6,968.2 1016.4,971 L1015.4,997 L1009.8,1001.8 L1009.8,1011.2 L995,1020.6 L991.3,1018.6 L992.2,982.6 L979.3,975.2" fill="none" stroke="#1c1c1c" stroke-width="1.15" />
<path d="M1016.3,971.6 L992.2,982.8" fill="none" stroke="#1c1c1c" stroke-width="1.1" />
<path d="M972.0,979.8 L970.9,1005.8 L991.3,1017.8" fill="none" stroke="#1c1c1c" stroke-width="1.1" />
<path d="M997.8,986.4 L1011.6,979 L1012.5,988.3 L1000.5,992.9 L994.1,1014 L995,1020.6" fill="none" stroke="#1c1c1c" stroke-width="1.1" />
<path d="M997.8,986.4 L1000.5,992.9" fill="none" stroke="#1c1c1c" stroke-width="0.9" />
<path d="M997.8,986.4 L991.5,1013.6" fill="none" stroke="#1c1c1c" stroke-width="0.9" />
<path d="M1009.5,974.3 L1009.8,1001.8" fill="none" stroke="#1c1c1c" stroke-width="0.9" />
<path d="M970.9,1005.8 L965.5,1009.0" fill="none" stroke="#1c1c1c" stroke-width="1.0" />
<path d="M971.5,1008.8 L987.5,1017.8" fill="none" stroke="#444" stroke-width="0.8" />
<path d="M966.5,1008.6 L988.0,1020.5" fill="none" stroke="#1c1c1c" stroke-width="0.9" />
<path d="M890.0,967.4 L1043.0,1054.8" fill="none" stroke="#1c1c1c" stroke-width="1.15" />
<path d="M890.0,978.5 L1037.0,1062.8" fill="none" stroke="#1c1c1c" stroke-width="1.15" />
<path d="M937.7,992.9 L966.3,1009.0" fill="none" stroke="#1c1c1c" stroke-width="1.15" />
<path d="M1006,1029.9 L1036.6,1012.3 L1042.1,1015.1 L1042.1,1031.7" fill="none" stroke="#1c1c1c" stroke-width="1.1" />
<path d="M1008.8,1032.6 L1038.4,1016 L1039.3,1029.9" fill="none" stroke="#1c1c1c" stroke-width="1.0" />
<path d="M1042.1,1031.7 L1060.0,1042.0" fill="none" stroke="#1c1c1c" stroke-width="1.15" />
<path d="M1024.6,1024.3 L1052.0,1040.4" fill="none" stroke="#1c1c1c" stroke-width="1.0" />
<path d="M1016.2,997.5 L1042.1,1011.4" fill="none" stroke="#1c1c1c" stroke-width="1.15" />
<path d="M1006.0,1029.9 L1008.8,1032.6 L1048.0,1055.0" fill="none" stroke="#1c1c1c" stroke-width="1.0" />
<ellipse cx="1022.7" cy="1064.1" rx="4.6" ry="3.6" fill="none" stroke="#1c1c1c" stroke-width="1.0"/>
</g>
<circle cx="987.2" cy="980.2" r="93.2" fill="none" stroke="#1c1c1c" stroke-width="1.1" stroke-dasharray="3.3,2.3"/>
</svg>
</body></html>
